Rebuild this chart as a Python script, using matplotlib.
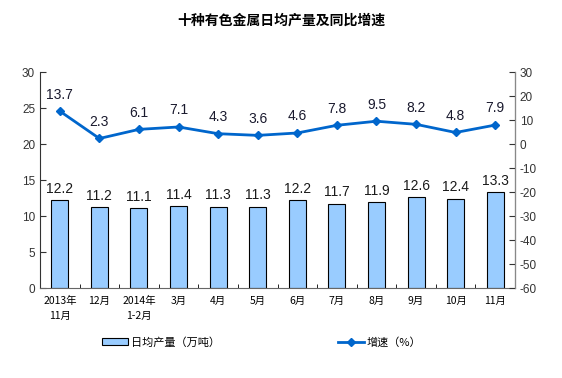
import matplotlib.pyplot as plt
import numpy as np
from matplotlib.patches import Patch
from matplotlib.lines import Line2D

plt.rcParams["font.family"] = ["Liberation Sans", "Noto Sans CJK SC", "DejaVu Sans"]
plt.rcParams["axes.unicode_minus"] = False

months = ["2013年\n11月", "12月", "2014年\n1-2月", "3月", "4月", "5月",
          "6月", "7月", "8月", "9月", "10月", "11月"]
output = [12.2, 11.2, 11.1, 11.4, 11.3, 11.3, 12.2, 11.7, 11.9, 12.6, 12.4, 13.3]
growth = [13.7, 2.3, 6.1, 7.1, 4.3, 3.6, 4.6, 7.8, 9.5, 8.2, 4.8, 7.9]

bar_color = "#99CCFF"
line_color = "#0066CC"

fig = plt.figure(figsize=(5.62, 3.78), dpi=100)
ax = fig.add_axes([0.0712, 0.238, 0.8452, 0.5715])
x = np.arange(len(months))

ax.bar(x, output, width=0.43, color=bar_color, edgecolor="black", linewidth=0.8, zorder=2)
for xi, v in zip(x, output):
    ax.text(xi, v + 0.6, f"{v:.1f}", ha="center", va="bottom", fontsize=10, color="#1a1a1a")

ax.set_xlim(-0.5, len(months) - 0.5)
ax.set_ylim(0, 30)
ax.set_yticks(range(0, 31, 5))
ax.set_xticks(x)
ax.set_xticklabels(months, fontsize=7.5, linespacing=1.5, family=["Noto Sans CJK SC"])
ax.set_xticks(np.arange(-0.5, len(months), 1), minor=True)
ax.tick_params(axis="x", which="major", length=0, pad=6)
ax.tick_params(axis="x", which="minor", length=3, direction="in")
ax.tick_params(axis="y", direction="in", length=4, labelsize=8.5, colors="#333333")

ax2 = ax.twinx()
ax2.plot(x, growth, color=line_color, linewidth=2, marker="D", markersize=4.5, zorder=3)
for xi, v in zip(x, growth):
    ax2.text(xi, v + 4, f"{v:.1f}", ha="center", va="bottom", fontsize=10, color="#1a1a2e")
ax2.set_ylim(-60, 30)
ax2.set_yticks(range(-60, 31, 10))
ax2.tick_params(axis="y", direction="in", length=4, labelsize=8.5, colors="#333333")

for a in (ax, ax2):
    a.spines["top"].set_visible(False)
ax.spines["left"].set_color("#333333")
ax.spines["bottom"].set_color("#666666")
ax2.spines["right"].set_color("#888888")
ax2.spines["left"].set_visible(False)
ax2.spines["bottom"].set_visible(False)

fig.text(0.5, 0.945, "十种有色金属日均产量及同比增速", ha="center", va="center",
         fontsize=10, fontweight="bold", family=["Noto Sans CJK SC"])

handles = [Patch(facecolor=bar_color, edgecolor="black", linewidth=0.8),
           Line2D([0], [0], color=line_color, linewidth=2, marker="D", markersize=4)]
fig.legend(handles, ["日均产量（万吨）", "增速（%）"], loc="center", ncol=2,
           bbox_to_anchor=(0.466, 0.095), frameon=False, columnspacing=10.6,
           handlelength=2.3, handletextpad=0.3,
           prop={"family": ["Noto Sans CJK SC"], "size": 8})

fig.savefig("out.png", dpi=100)
